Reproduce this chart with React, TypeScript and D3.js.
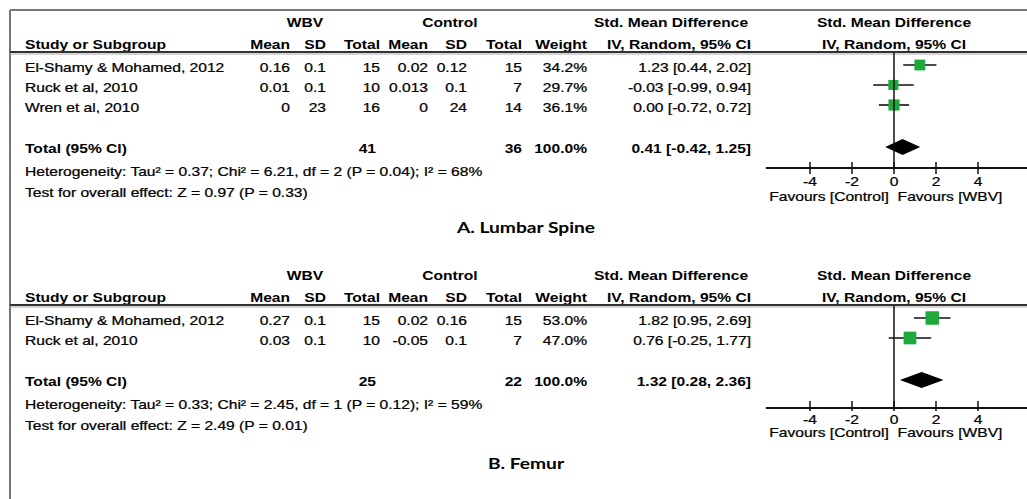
import React from "react";
import * as d3 from "d3";

// ---------- Data ----------
const studiesA = ["El-Shamy & Mohamed, 2012", "Ruck et al, 2010", "Wren et al, 2010"];
const wbvMeanA = [0.16, 0.01, 0];
const wbvSdA = [0.1, 0.1, 23];
const wbvNA = [15, 10, 16];
const ctlMeanA = [0.02, 0.013, 0];
const ctlSdA = [0.12, 0.1, 24];
const ctlNA = [15, 7, 14];
const weightA = [34.2, 29.7, 36.1];
const smdA = [1.23, -0.03, 0.0];
const loA = [0.44, -0.99, -0.72];
const hiA = [2.02, 0.94, 0.72];
const totalA = { n1: 41, n2: 36, smd: 0.41, lo: -0.42, hi: 1.25 };
const hetA = "Heterogeneity: Tau² = 0.37; Chi² = 6.21, df = 2 (P = 0.04); I² = 68%";
const testA = "Test for overall effect: Z = 0.97 (P = 0.33)";
const titleA = "A. Lumbar Spine";

const studiesB = ["El-Shamy & Mohamed, 2012", "Ruck et al, 2010"];
const wbvMeanB = [0.27, 0.03];
const wbvSdB = [0.1, 0.1];
const wbvNB = [15, 10];
const ctlMeanB = [0.02, -0.05];
const ctlSdB = [0.16, 0.1];
const ctlNB = [15, 7];
const weightB = [53.0, 47.0];
const smdB = [1.82, 0.76];
const loB = [0.95, -0.25];
const hiB = [2.69, 1.77];
const totalB = { n1: 25, n2: 22, smd: 1.32, lo: 0.28, hi: 2.36 };
const hetB = "Heterogeneity: Tau² = 0.33; Chi² = 2.45, df = 1 (P = 0.12); I² = 59%";
const testB = "Test for overall effect: Z = 2.49 (P = 0.01)";
const titleB = "B. Femur";

const axisTicks = [-4, -2, 0, 2, 4];

// ---------- Helpers ----------
const FONT = "'Liberation Sans', Arial, sans-serif";
const SX = 1.2;
const FS = 13;

function T({ x, y, children, anchor = "start", bold = false, size = FS, sx = SX, family = FONT }: any) {
  return (
    <text
      transform={`translate(${x},${y}) scale(${sx},1)`}
      textAnchor={anchor}
      fontWeight={bold ? "bold" : "normal"}
      fontSize={size}
      fontFamily={family}
      fill="#000"
      stroke={bold ? "none" : "#000"}
      strokeWidth={bold ? 0 : 0.25}
    >
      {children}
    </text>
  );
}

const ciText = (s: number, l: number, h: number) =>
  `${s.toFixed(2)} [${l.toFixed(2)}, ${h.toFixed(2)}]`;

const xs = d3.scaleLinear().domain([-4, 4]).range([894 - 84, 894 + 84]);

// column right edges
const COL = { m1: 290, s1: 326, n1: 380, m2: 428, s2: 467, n2: 522, w: 587, ci: 751 };
const LEFT = 25;

function Panel({ base, studies, m1, s1, n1, m2, s2, n2, w, smd, lo, hi, total, het, test, title,
  axisOff, tickUp, tickDown, tickOff, favOff, titleOff }: any) {
  const bl = 4.7; // baseline offset from visual centre
  const rowY = (i: number) => base + 67 + i * 20;
  const last = rowY(studies.length - 1);
  const totY = last + 41;
  const hetY = totY + 23;
  const testY = hetY + 21;
  const titleY = testY + titleOff;
  const axisY = totY + axisOff;
  return (
    <g>
      {/* headers */}
      <T x={305} y={base + 22 + bl} anchor="middle" bold>WBV</T>
      <T x={450} y={base + 22 + bl} anchor="middle" bold>Control</T>
      <T x={671} y={base + 22 + bl} anchor="middle" bold>Std. Mean Difference</T>
      <T x={894} y={base + 22 + bl} anchor="middle" bold>Std. Mean Difference</T>
      <T x={LEFT} y={base + 44 + bl} bold>Study or Subgroup</T>
      <T x={COL.m1} y={base + 44 + bl} anchor="end" bold>Mean</T>
      <T x={COL.s1} y={base + 44 + bl} anchor="end" bold>SD</T>
      <T x={COL.n1} y={base + 44 + bl} anchor="end" bold>Total</T>
      <T x={COL.m2} y={base + 44 + bl} anchor="end" bold>Mean</T>
      <T x={COL.s2} y={base + 44 + bl} anchor="end" bold>SD</T>
      <T x={COL.n2} y={base + 44 + bl} anchor="end" bold>Total</T>
      <T x={COL.w} y={base + 44 + bl} anchor="end" bold>Weight</T>
      <T x={COL.ci} y={base + 44 + bl} anchor="end" bold>IV, Random, 95% CI</T>
      <T x={894} y={base + 44 + bl} anchor="middle" bold>IV, Random, 95% CI</T>
      <line x1={10} x2={1027} y1={base + 52} y2={base + 52} stroke="#333" strokeWidth={2} />
      <line x1={10} x2={1027} y1={base + 54} y2={base + 54} stroke="#aaa" strokeWidth={1} />

      {/* study rows */}
      {studies.map((s: string, i: number) => {
        const y = rowY(i);
        const sz = 1.85 * Math.sqrt(w[i]);
        return (
          <g key={s}>
            <T x={LEFT} y={y + bl}>{s}</T>
            <T x={COL.m1} y={y + bl} anchor="end">{String(m1[i])}</T>
            <T x={COL.s1} y={y + bl} anchor="end">{String(s1[i])}</T>
            <T x={COL.n1} y={y + bl} anchor="end">{String(n1[i])}</T>
            <T x={COL.m2} y={y + bl} anchor="end">{String(m2[i])}</T>
            <T x={COL.s2} y={y + bl} anchor="end">{String(s2[i])}</T>
            <T x={COL.n2} y={y + bl} anchor="end">{String(n2[i])}</T>
            <T x={COL.w} y={y + bl} anchor="end">{`${w[i].toFixed(1)}%`}</T>
            <T x={COL.ci} y={y + bl} anchor="end">{ciText(smd[i], lo[i], hi[i])}</T>
            <line x1={xs(lo[i])} x2={xs(hi[i])} y1={y - 2} y2={y - 2} stroke="#111" strokeWidth={1.6} />
            <rect x={xs(smd[i]) - sz / 2} y={y - 2 - sz / 2} width={sz} height={sz} fill="#1fa83c" />
          </g>
        );
      })}

      {/* total */}
      <T x={LEFT} y={totY + bl} bold>Total (95% CI)</T>
      <T x={COL.n1 - 4} y={totY + bl} anchor="end" bold>{String(total.n1)}</T>
      <T x={COL.n2} y={totY + bl} anchor="end" bold>{String(total.n2)}</T>
      <T x={COL.w} y={totY + bl} anchor="end" bold>100.0%</T>
      <T x={COL.ci} y={totY + bl} anchor="end" bold>{ciText(total.smd, total.lo, total.hi)}</T>
      <path
        d={`M${xs(total.lo)},${totY - 1} L${xs(total.smd)},${totY - 9} L${xs(total.hi)},${totY - 1} L${xs(total.smd)},${totY + 7} Z`}
        fill="#000"
      />
      <T x={LEFT} y={hetY + bl}>{het}</T>
      <T x={LEFT} y={testY + bl}>{test}</T>

      {/* forest axis */}
      <line x1={xs(0)} x2={xs(0)} y1={base + 53} y2={axisY} stroke="#111" strokeWidth={1.5} />
      <line x1={xs(-6.1)} x2={1027} y1={axisY} y2={axisY} stroke="#111" strokeWidth={1.8} />
      {axisTicks.map((t) => (
        <g key={t}>
          <line x1={xs(t)} x2={xs(t)} y1={axisY - tickUp} y2={axisY + tickDown} stroke="#111" strokeWidth={1.5} />
          <T x={xs(t)} y={axisY + tickOff + bl} anchor="middle">{t < 0 ? `-${Math.abs(t)}` : String(t)}</T>
        </g>
      ))}
      <T x={829} y={axisY + favOff + bl} anchor="middle">Favours [Control]</T>
      <T x={950} y={axisY + favOff + bl} anchor="middle">Favours [WBV]</T>

      <T x={526} y={titleY + 5.5} anchor="middle" bold size={16} sx={1.2} family="Lato, 'Open Sans', sans-serif">{title}</T>
    </g>
  );
}

export default function App() {
  return (
    <svg width={1027} height={499} style={{ position: "absolute", left: 0, top: 0, background: "#fff" }}>
      <rect x={0} y={0} width={1027} height={499} fill="#fff" />
      <line x1={10} x2={1027} y1={10} y2={10} stroke="#777" strokeWidth={2} />
      <line x1={10} x2={10} y1={10} y2={499} stroke="#777" strokeWidth={2} />
      <Panel
        base={0}
        studies={studiesA} m1={wbvMeanA} s1={wbvSdA} n1={wbvNA} m2={ctlMeanA} s2={ctlSdA} n2={ctlNA}
        w={weightA} smd={smdA} lo={loA} hi={hiA} total={totalA} het={hetA} test={testA} title={titleA}
        axisOff={20} tickUp={6} tickDown={6} tickOff={13} favOff={28} titleOff={35}
      />
      <Panel
        base={253}
        studies={studiesB} m1={wbvMeanB} s1={wbvSdB} n1={wbvNB} m2={ctlMeanB} s2={ctlSdB} n2={ctlNB}
        w={weightB} smd={smdB} lo={loB} hi={hiB} total={totalB} het={hetB} test={testB} title={titleB}
        axisOff={27} tickUp={7} tickDown={3} tickOff={11} favOff={24} titleOff={38}
      />
    </svg>
  );
}
